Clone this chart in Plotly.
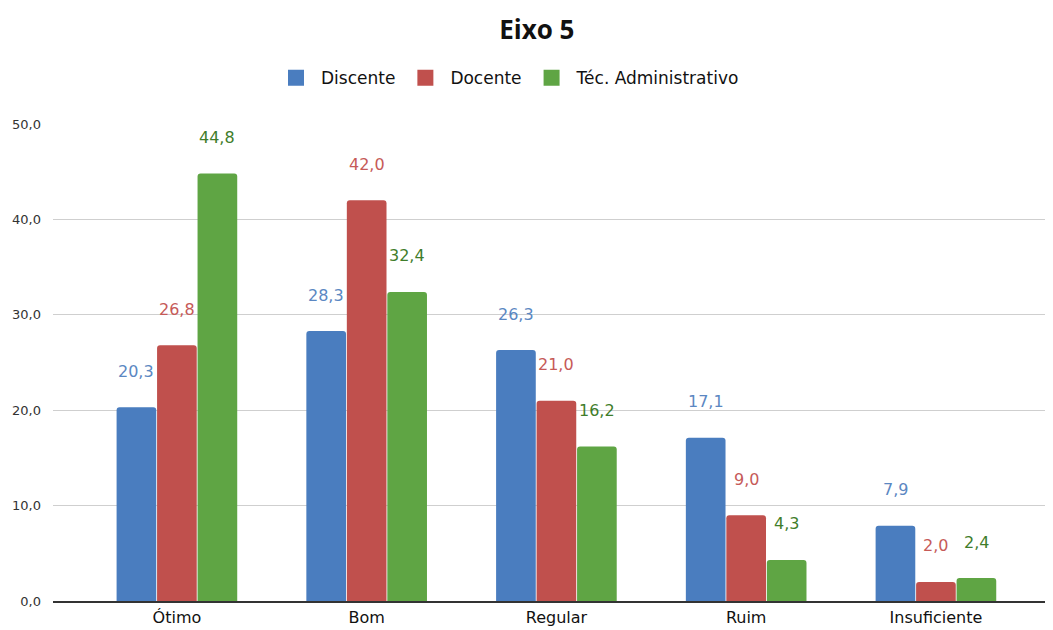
import plotly.graph_objects as go

categories = ["Ótimo", "Bom", "Regular", "Ruim", "Insuficiente"]
series_names = ["Discente", "Docente", "Téc. Administrativo"]
discente = [20.3, 28.3, 26.3, 17.1, 7.9]
docente = [26.8, 42.0, 21.0, 9.0, 2.0]
tecnico = [44.8, 32.4, 16.2, 4.3, 2.4]
y_ticks = [0, 10, 20, 30, 40, 50]

bar_colors = ["#4a7dbf", "#c0504d", "#5fa544"]
label_colors = ["#5b87c2", "#c65a58", "#3f7d2b"]
all_values = [discente, docente, tecnico]

fig = go.Figure()
for name, vals, col in zip(series_names, all_values, bar_colors):
    fig.add_trace(go.Bar(name=name, x=categories, y=vals, showlegend=False,
                         marker=dict(color=col, line=dict(width=0))))
# legend entries with larger square swatches
for name, col in zip(series_names, bar_colors):
    fig.add_trace(go.Scatter(name=name, x=[None], y=[None], mode="markers",
                             marker=dict(symbol="square", size=16, color=col), hoverinfo="skip"))

shifts = [-40.5, 0, 40.5]
for vals, col, sh in zip(all_values, label_colors, shifts):
    for c, v in zip(categories, vals):
        fig.add_annotation(x=c, y=v, text=f"{v:.1f}".replace(".", ","), showarrow=False,
                           xshift=sh, yshift=36, font=dict(family="DejaVu Sans", size=16, color=col))

# page body has an 8px margin: figure is sized/offset to compensate
fig.update_layout(
    width=1045, height=622,
    margin=dict(l=45, r=0, t=116, b=29, autoexpand=False),
    paper_bgcolor="white", plot_bgcolor="white",
    barmode="group", bargap=0.36, bargroupgap=0.02, barcornerradius=3,
    separators=",.",
    title=dict(text="<b>Eixo 5</b>", x=0.506, xanchor="center", y=0.965, yanchor="middle",
               font=dict(family="Open Sans", size=26, color="#111111")),
    legend=dict(orientation="h", x=0.455, xanchor="center", y=1.096, yanchor="middle",
                font=dict(family="DejaVu Sans", size=17, color="#111111"),
                itemwidth=40, itemsizing="trace", traceorder="normal", tracegroupgap=0),
    font=dict(family="DejaVu Sans", color="#222222"),
)
fig.update_xaxes(range=[-0.653, 4.617], showline=True, linecolor="#333333", linewidth=1.5,
                 tickfont=dict(family="DejaVu Sans", size=16, color="#111111"), ticks="",
                 ticklabelstandoff=1, fixedrange=True, automargin=False)
fig.update_yaxes(range=[0, 50], tickvals=y_ticks, tickformat=".1f", showgrid=True,
                 gridcolor="#cfcfcf", gridwidth=1, zeroline=False, automargin=False,
                 tickfont=dict(family="DejaVu Sans", size=13, color="#333333"),
                 ticks="", ticklabelstandoff=11)

fig.write_html("out.html")
